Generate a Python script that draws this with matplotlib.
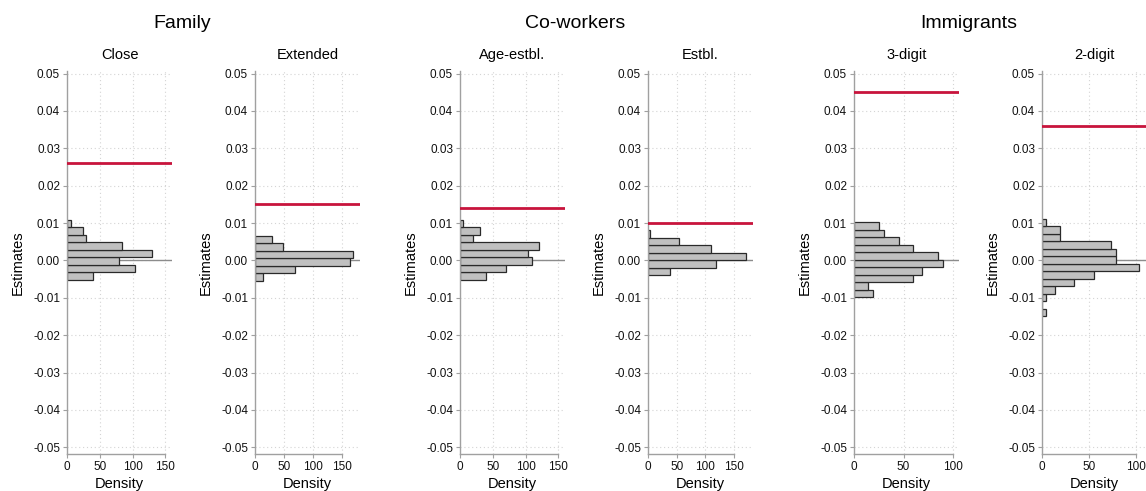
import numpy as np
import matplotlib
matplotlib.use("Agg")
import matplotlib.pyplot as plt
from matplotlib.ticker import FormatStrFormatter

plt.rcParams['font.family'] = ['Liberation Sans', 'DejaVu Sans']
plt.rcParams['axes.unicode_minus'] = False

# group titles and panel titles
groups = ['Family', 'Co-workers', 'Immigrants']
panel_titles = ['Close', 'Extended', 'Age-estbl.', 'Estbl.', '3-digit', '2-digit']

# histogram bins: lowest edge of each panel, common bin width
bin_width = 0.002
bin_lo = [-0.0051, -0.0054, -0.0051, -0.0039, -0.0098, -0.0149]

# densities, bottom bin first
close_dens = [40, 104, 79, 130, 84, 29, 24, 5.6]
extended_dens = [14, 70, 164, 170, 49, 29]
age_estbl_dens = [40, 70, 109, 104, 120, 20, 30, 4.6]
estbl_dens = [39, 119, 170, 109, 54, 4]
digit3_dens = [19.6, 14.5, 59.5, 69, 89.5, 84.5, 59.5, 45, 30, 25]
digit2_dens = [4.3, 0, 4.3, 14, 34, 55, 104, 79, 79, 74, 19, 19, 4.3]

# actual estimate (red line)
estimates = [0.026, 0.015, 0.014, 0.010, 0.045, 0.036]

# x ranges and ticks
x_max = [160, 182, 160, 183, 106, 112]
x_ticks = [[0, 50, 100, 150]] * 4 + [[0, 50, 100]] * 2
y_ticks = [0.05, 0.04, 0.03, 0.02, 0.01, 0.00, -0.01, -0.02, -0.03, -0.04, -0.05]

all_dens = [close_dens, extended_dens, age_estbl_dens, estbl_dens, digit3_dens, digit2_dens]

W, H = 1146, 491
fig = plt.figure(figsize=(W / 100, H / 100), dpi=100)

# axes placement in pixels
lefts = [67, 255, 460, 648, 854, 1042]
ax_w = 105
top_px, bot_px = 71, 454

grey = '#a0a0a0'
for i in range(6):
    ax = fig.add_axes([lefts[i] / W, 1 - bot_px / H, ax_w / W, (bot_px - top_px) / H])
    dens = all_dens[i]
    edges = bin_lo[i] + bin_width * np.arange(len(dens))
    ax.axhline(0, color='#8c8c8c', lw=1.0, zorder=1)
    ax.barh(edges, dens, height=bin_width, align='edge', color='#c0c0c0',
            edgecolor='#2a2a2a', linewidth=0.9, zorder=2)
    ax.axhline(estimates[i], color='#c8143c', lw=2.0, zorder=3)

    ax.set_xlim(0, x_max[i])
    ax.set_ylim(-0.0518, 0.0507)
    ax.set_xticks(x_ticks[i])
    ax.set_yticks(y_ticks)
    ax.yaxis.set_major_formatter(FormatStrFormatter('%.2f'))

    # dotted grid
    for v in x_ticks[i][1:]:
        ax.axvline(v, color='#d4d4d4', lw=0.8, ls=(0, (1, 2.5)), zorder=0)
    for v in y_ticks:
        ax.axhline(v, color='#d4d4d4', lw=0.8, ls=(0, (1, 2.5)), zorder=0)

    for s in ['top', 'right']:
        ax.spines[s].set_visible(False)
    for s in ['left', 'bottom']:
        ax.spines[s].set_color(grey)
        ax.spines[s].set_linewidth(1.0)
    ax.spines['bottom'].set_bounds(0, x_ticks[i][-1])
    ax.tick_params(axis='both', colors=grey, labelcolor='#111111', labelsize=8.5,
                   length=3, width=0.8, pad=2)

    ax.set_xlabel('Density', fontsize=10.5, labelpad=3)
    ax.set_ylabel('Estimates', fontsize=10.5, labelpad=6)
    ax.set_title(panel_titles[i], fontsize=10.5, pad=9)

group_x = [182, 575, 969]
for g, x in zip(groups, group_x):
    fig.text(x / W, 1 - 23 / H, g, ha='center', va='center', fontsize=14)

fig.savefig('out.png', dpi=100, facecolor='white')
